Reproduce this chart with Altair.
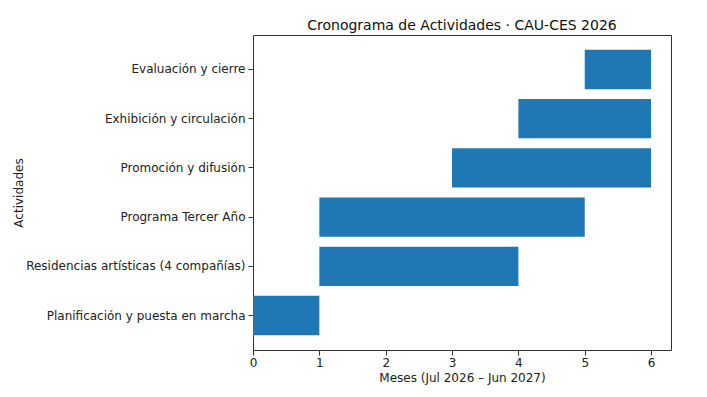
import altair as alt
import pandas as pd

actividades = [
    "Planificación y puesta en marcha",
    "Residencias artísticas (4 compañías)",
    "Programa Tercer Año",
    "Promoción y difusión",
    "Exhibición y circulación",
    "Evaluación y cierre",
]
inicio = [0, 1, 1, 3, 4, 5]
fin = [1, 4, 5, 6, 6, 6]
x_ticks = [0, 1, 2, 3, 4, 5, 6]

df = pd.DataFrame({"actividad": actividades, "inicio": inicio, "fin": fin})
orden = list(reversed(actividades))

FONT = "DejaVu Sans"

chart = alt.Chart(df).mark_bar(color="#1f77b4").encode(
    x=alt.X(
        "inicio:Q",
        scale=alt.Scale(domain=[0, 6.3], nice=False, zero=False),
        axis=alt.Axis(
            values=x_ticks, grid=False, title="Meses (Jul 2026 – Jun 2027)",
            format="d", tickSize=5, tickColor="#333", domain=False, labelFlush=False,
            labelFontSize=12, titleFontSize=12, titleFontWeight="normal",
            labelColor="#222", titleColor="#222", labelPadding=2, titlePadding=4,
            labelFont=FONT, titleFont=FONT,
        ),
    ),
    x2="fin:Q",
    y=alt.Y(
        "actividad:N",
        sort=orden,
        scale=alt.Scale(paddingInner=0.2, paddingOuter=0.3),
        axis=alt.Axis(
            title="Actividades", grid=False, tickSize=5, tickColor="#333", domain=False,
            labelFontSize=12, titleFontSize=12, titleFontWeight="normal",
            labelColor="#222", titleColor="#222", labelPadding=3, titlePadding=28,
            labelFont=FONT, titleFont=FONT, labelLimit=400,
        ),
    ),
).properties(
    width=418,
    height=315,
    title=alt.TitleParams(
        "Cronograma de Actividades · CAU-CES 2026",
        font=FONT, fontSize=14, fontWeight="normal", color="#111", offset=2,
    ),
    padding={"left": 245, "top": 27, "right": 20, "bottom": 50},
    autosize="none",
).configure_view(
    stroke="#333", strokeWidth=1
)

chart.save("out.html", embed_options={"renderer": "svg", "actions": False})
